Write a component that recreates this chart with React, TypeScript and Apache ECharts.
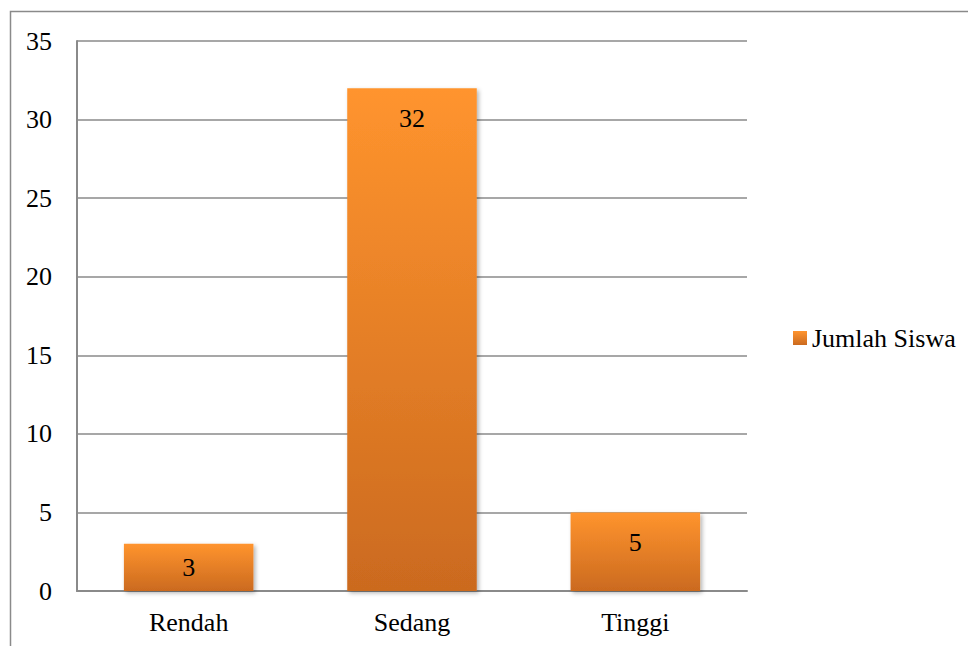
import React, { useEffect, useRef } from "react";
import * as echarts from "echarts";

const categories = ["Rendah", "Sedang", "Tinggi"];
const seriesName = "Jumlah Siswa";
const values = [3, 32, 5];
const yTicks = { min: 0, max: 35, interval: 5 };

export default function App() {
  const ref = useRef<HTMLDivElement>(null);
  useEffect(() => {
    if (!ref.current) return;
    const chart = echarts.init(ref.current, null, { renderer: "svg" });
    const font = "Liberation Serif, Times New Roman, serif";
    const grad = new echarts.graphic.LinearGradient(0, 0, 0, 1, [
      { offset: 0, color: "#FF942E" },
      { offset: 1, color: "#CB6A1F" },
    ]);
    chart.setOption({
      animation: false,
      backgroundColor: "#ffffff",
      textStyle: { fontFamily: font },
      graphic: [
        {
          type: "rect",
          shape: { x: 10.5, y: 11.5, width: 1200, height: 1200 },
          style: { fill: "none", stroke: "#8a8a8a", lineWidth: 1.5 },
          silent: true,
        },
      ],
      grid: { left: 77, top: 41, right: 221, bottom: 55, containLabel: false },
      legend: {
        show: true,
        orient: "vertical",
        left: 788,
        top: 320,
        itemWidth: 14,
        itemHeight: 14,
        itemGap: 6,
        icon: "rect",
        textStyle: { fontFamily: font, fontSize: 26, color: "#000", fontWeight: "normal" },
        data: [{ name: seriesName, itemStyle: { color: grad } }],
      },
      xAxis: {
        type: "category",
        data: categories,
        axisLine: { show: true, lineStyle: { color: "#8a8a8a", width: 2 } },
        axisTick: { show: false },
        axisLabel: { fontFamily: font, fontSize: 26, color: "#000", margin: 18 },
      },
      yAxis: {
        type: "value",
        min: yTicks.min,
        max: yTicks.max,
        interval: yTicks.interval,
        axisLine: { show: true, lineStyle: { color: "#8a8a8a", width: 2 } },
        axisTick: { show: false },
        splitLine: { show: true, lineStyle: { color: "#8a8a8a", width: 1.5 } },
        axisLabel: { fontFamily: font, fontSize: 26, color: "#000", margin: 25 },
      },
      series: [
        {
          name: seriesName,
          type: "bar",
          barWidth: "58%",
          data: values.map((v, i) => ({
            value: v,
            label: i === 0 ? { position: "inside" } : { position: "insideTop", distance: 17 },
          })),
          itemStyle: {
            color: grad,
            shadowBlur: 4,
            shadowColor: "rgba(0,0,0,0.3)",
            shadowOffsetX: 2,
            shadowOffsetY: 2,
          },
          label: {
            show: true,
            fontFamily: font,
            fontSize: 26,
            color: "#000",
          },
        },
      ],
    });
    return () => chart.dispose();
  }, []);
  return (
    <div
      ref={ref}
      style={{ position: "fixed", left: 0, top: 0, width: 968, height: 646, fontFamily: "Liberation Serif" }}
    />
  );
}
